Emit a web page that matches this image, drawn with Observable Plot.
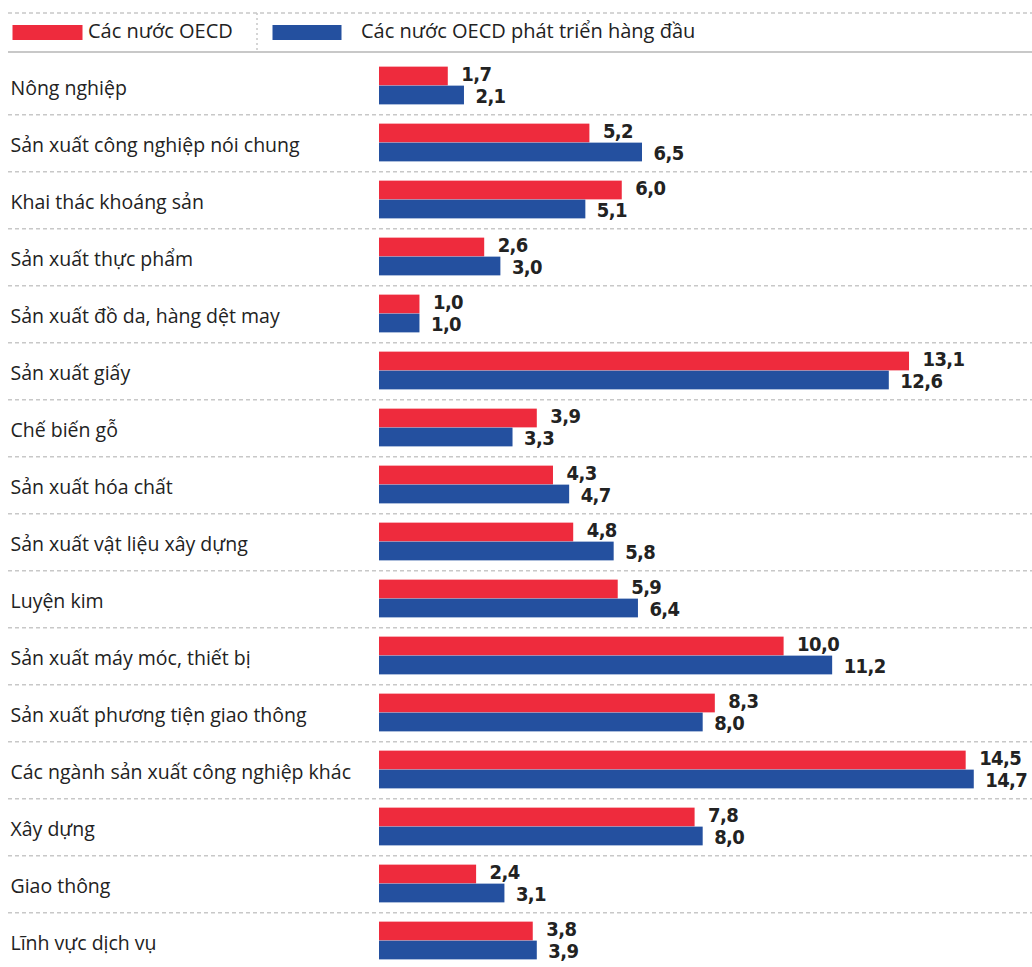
<!DOCTYPE html>
<html><head><meta charset="utf-8">
<script src="https://cdn.jsdelivr.net/npm/d3@7"></script>
<script src="https://cdn.jsdelivr.net/npm/@observablehq/plot@0.6"></script>
<style>
html,body{margin:0;padding:0;background:#fff;overflow:hidden;}
#legend{display:block;}
#chart svg{display:block;}
g[font-family*="Narrow"] text{font-stretch:condensed;letter-spacing:-0.6px;}
</style></head><body>
<svg id="legend" width="1032" height="55" font-family="'Open Sans', sans-serif" font-size="20" fill="#222">
  <line x1="8" x2="1032" y1="13" y2="13" stroke="#c8c8c8" stroke-width="1.5" stroke-dasharray="4 3"/>
  <line x1="8" x2="1032" y1="52" y2="52" stroke="#c8c8c8" stroke-width="2"/>
  <line x1="257" x2="257" y1="13" y2="52" stroke="#c8c8c8" stroke-width="1.5" stroke-dasharray="2 3"/>
  <rect id="sw0" x="12.5" y="25" width="70" height="15"/>
  <text id="lt0" x="88" y="32.5" dominant-baseline="middle"></text>
  <rect id="sw1" x="272.5" y="25" width="69" height="15"/>
  <text id="lt1" x="361" y="32.5" dominant-baseline="middle"></text>
</svg>
<div id="chart"></div>
<script>
const categories = [
  "Nông nghiệp",
  "Sản xuất công nghiệp nói chung",
  "Khai thác khoáng sản",
  "Sản xuất thực phẩm",
  "Sản xuất đồ da, hàng dệt may",
  "Sản xuất giấy",
  "Chế biến gỗ",
  "Sản xuất hóa chất",
  "Sản xuất vật liệu xây dựng",
  "Luyện kim",
  "Sản xuất máy móc, thiết bị",
  "Sản xuất phương tiện giao thông",
  "Các ngành sản xuất công nghiệp khác",
  "Xây dựng",
  "Giao thông",
  "Lĩnh vực dịch vụ"
];
const oecd    = [1.7, 5.2, 6.0, 2.6, 1.0, 13.1, 3.9, 4.3, 4.8, 5.9, 10.0, 8.3, 14.5, 7.8, 2.4, 3.8];
const topOecd = [2.1, 6.5, 5.1, 3.0, 1.0, 12.6, 3.3, 4.7, 5.8, 6.4, 11.2, 8.0, 14.7, 8.0, 3.1, 3.9];
const seriesNames = ["Các nước OECD", "Các nước OECD phát triển hàng đầu"];
const colors = ["#ee2b3d", "#24509f"];

document.getElementById("sw0").setAttribute("fill", colors[0]);
document.getElementById("sw1").setAttribute("fill", colors[1]);
document.getElementById("lt0").textContent = seriesNames[0];
document.getElementById("lt1").textContent = seriesNames[1];

const rowsA = categories.map((c, i) => ({cat: c, series: seriesNames[0], value: oecd[i]}));
const rowsB = categories.map((c, i) => ({cat: c, series: seriesNames[1], value: topOecd[i]}));
const fmt = v => v.toFixed(1).replace(".", ",");

const H = 916;
const band = H / categories.length;
const barH = 19;
const outer = band / 2 - barH;
const valFont = "'Liberation Sans Narrow', 'DejaVu Sans Condensed', sans-serif";

const chart = Plot.plot({
  width: 1032,
  height: H,
  marginLeft: 379,
  marginRight: 38,
  marginTop: 0,
  marginBottom: 0,
  style: {background: "#fff", overflow: "visible"},
  x: {domain: [0, 15.2], axis: null},
  y: {domain: categories, padding: 0, axis: null},
  marks: [
    Plot.ruleY(categories, {y: d => d, dy: band / 2, stroke: "#c8c8c8", strokeWidth: 1.5, strokeDasharray: "4,3", insetLeft: -371, insetRight: -38}),
    Plot.barX(rowsA, {x: "value", y: "cat", fill: colors[0], insetTop: outer, insetBottom: band - outer - barH}),
    Plot.barX(rowsB, {x: "value", y: "cat", fill: colors[1], insetTop: band - outer - barH, insetBottom: outer}),
    Plot.text(categories, {x: 0, y: d => d, text: d => d, dx: -369, dy: 3, textAnchor: "start", fontSize: 19.5, fontFamily: "'Open Sans', sans-serif", fill: "#222"}),
    Plot.text(rowsA, {x: "value", y: "cat", text: d => fmt(d.value), dx: 13, dy: -11.5, textAnchor: "start", fontSize: 20, fontWeight: "bold", fontFamily: valFont, fill: "#222"}),
    Plot.text(rowsB, {x: "value", y: "cat", text: d => fmt(d.value), dx: 11, dy: 11, textAnchor: "start", fontSize: 20, fontWeight: "bold", fontFamily: valFont, fill: "#222"})
  ]
});
document.getElementById("chart").appendChild(chart);
</script>
</body></html>
